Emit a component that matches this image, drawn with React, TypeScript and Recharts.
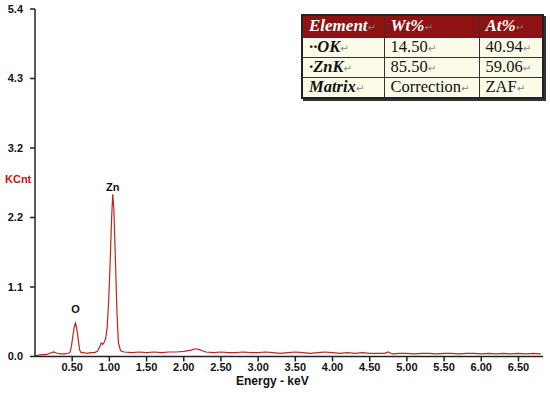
import React from 'react';
import { LineChart, Line, XAxis, YAxis, ReferenceDot } from 'recharts';

// EDS spectrum (keV vs KCnt)
const energy = [
  0.0, 0.05, 0.1, 0.15, 0.2, 0.25, 0.3, 0.35, 0.4, 0.44, 0.47, 0.49, 0.51, 0.53, 0.545, 0.56, 0.58, 0.6, 0.62,
  0.65, 0.7, 0.75, 0.8, 0.84, 0.87, 0.89, 0.91, 0.93, 0.95, 0.97, 0.99, 1.01, 1.03, 1.045, 1.06, 1.08, 1.1,
  1.12, 1.15, 1.2, 1.3, 1.4, 1.5, 1.6, 1.7, 1.8, 1.9, 2.0, 2.1, 2.15, 2.2, 2.25, 2.3, 2.4, 2.5, 2.6, 2.7, 2.8,
  2.9, 3.0, 3.1, 3.2, 3.3, 3.4, 3.5, 3.6, 3.7, 3.8, 3.9, 4.0, 4.1, 4.2, 4.3, 4.4, 4.5, 4.6, 4.7, 4.75, 4.8,
  4.9, 5.0, 5.1, 5.2, 5.3, 5.4, 5.5, 5.6, 5.7, 5.8, 5.9, 6.0, 6.1, 6.2, 6.3, 6.4, 6.5, 6.6, 6.7, 6.8,
];
const kcnt = [
  0.01, 0.02, 0.03, 0.03, 0.05, 0.07, 0.05, 0.04, 0.04, 0.05, 0.06, 0.16, 0.33, 0.47, 0.52, 0.44, 0.28, 0.1, 0.06,
  0.06, 0.05, 0.06, 0.06, 0.08, 0.15, 0.21, 0.19, 0.22, 0.28, 0.45, 0.85, 1.45, 2.15, 2.52, 2.3, 1.55, 0.75,
  0.22, 0.09, 0.07, 0.06, 0.07, 0.06, 0.07, 0.06, 0.07, 0.07, 0.08, 0.1, 0.12, 0.11, 0.09, 0.07, 0.06, 0.07, 0.06, 0.06, 0.07,
  0.06, 0.06, 0.07, 0.06, 0.05, 0.06, 0.07, 0.06, 0.05, 0.06, 0.07, 0.06, 0.05, 0.06, 0.05, 0.06, 0.05, 0.05, 0.05, 0.07, 0.04,
  0.05, 0.05, 0.04, 0.05, 0.05, 0.04, 0.05, 0.05, 0.04, 0.05, 0.05, 0.04, 0.05, 0.04, 0.05, 0.04, 0.05, 0.04, 0.05, 0.04,
];

const xTicks = [0.5, 1.0, 1.5, 2.0, 2.5, 3.0, 3.5, 4.0, 4.5, 5.0, 5.5, 6.0, 6.5];
const yTicks = [0, 1.08, 2.16, 3.24, 4.32, 5.4];

const peakNames = ['O', 'Zn'];
const peakEnergy = [0.545, 1.045];
const peakHeight = [0.52, 2.52];
const peakOffset = [10, 3];

const tableHead = ['Element', 'Wt%', 'At%'];
const tableRows = [
  ['\u00b7\u00b7OK', '14.50', '40.94'],
  ['\u00b7ZnK', '85.50', '59.06'],
  ['Matrix', 'Correction', 'ZAF'],
];

const data = energy.map((e, i) => ({ e, v: kcnt[i] }));

const tickStyle = { fill: '#111', fontSize: 11, fontWeight: 700, fontFamily: 'Arial, "Liberation Sans", sans-serif' };
const red = '#bf2323';

const Mark = () => (
  <span style={{ fontSize: 10, color: '#888', fontStyle: 'normal', fontWeight: 400, fontFamily: '"DejaVu Sans", sans-serif' }}>
    {'\u21b5'}
  </span>
);

const colWidths = [82, 95, 64];

const EdsTable = () => (
  <table
    style={{
      position: 'absolute',
      left: 301,
      top: 14,
      width: 241,
      borderCollapse: 'collapse',
      tableLayout: 'fixed',
      fontFamily: '"Liberation Serif", "Times New Roman", serif',
      fontSize: 16.5,
      border: '2px solid #222',
      boxShadow: '2px 2px 0 #333',
    }}
  >
    <colgroup>
      {colWidths.map((w, i) => (
        <col key={i} style={{ width: w }} />
      ))}
    </colgroup>
    <tbody>
      <tr style={{ background: '#8e1212', height: 21 }}>
        {tableHead.map((h, i) => (
          <td
            key={h}
            style={{
              color: '#fff',
              fontWeight: 700,
              fontStyle: 'italic',
              fontSize: 17,
              padding: '0 0 0 6px',
              lineHeight: '19px',
              borderLeft: i ? '1px solid #333' : undefined,
            }}
          >
            {h}
            <Mark />
          </td>
        ))}
      </tr>
      {tableRows.map((row, r) => (
        <tr key={r} style={{ background: '#fcfbe8', height: 20 }}>
          {row.map((c, i) => (
            <td
              key={i}
              style={{
                color: '#111',
                fontWeight: i === 0 ? 700 : 400,
                fontStyle: i === 0 ? 'italic' : 'normal',
                padding: '0 0 0 6px',
                lineHeight: '17px',
                borderTop: '1px solid #333',
                borderLeft: i ? '1px solid #333' : undefined,
                whiteSpace: 'nowrap',
              }}
            >
              {c}
              <Mark />
            </td>
          ))}
        </tr>
      ))}
    </tbody>
  </table>
);

export default function App() {
  return (
    <div style={{ position: 'absolute', left: 0, top: 0, width: 550, height: 394, background: '#fff' }}>
      <LineChart width={550} height={394} data={data} margin={{ top: 9, right: 7, bottom: 0, left: 0 }}>
        <XAxis
          dataKey="e"
          type="number"
          domain={[0, 6.83]}
          ticks={xTicks}
          tickFormatter={(v: number) => v.toFixed(2)}
          tick={tickStyle}
          stroke="#222"
          strokeWidth={1.5}
          tickSize={5}
          tickMargin={2}
          height={37.5}
          interval={0}
        />
        <YAxis
          type="number"
          domain={[0, 5.4]}
          ticks={yTicks}
          tickFormatter={(v: number) => v.toFixed(1)}
          tick={tickStyle}
          stroke="#222"
          strokeWidth={1.5}
          tickSize={5}
          tickMargin={7}
          width={35}
          interval={0}
        />
        <Line
          type="linear"
          dataKey="v"
          stroke={red}
          strokeWidth={1.2}
          dot={false}
          isAnimationActive={false}
        />
        {peakNames.map((name, i) => (
          <ReferenceDot
            key={name}
            x={peakEnergy[i]}
            y={peakHeight[i]}
            r={0}
            stroke="none"
            label={{ value: name, position: 'top', offset: peakOffset[i], fill: '#111', fontSize: 11, fontWeight: 700, fontFamily: 'Arial, "Liberation Sans", sans-serif' }}
          />
        ))}
      </LineChart>
      <div
        style={{
          position: 'absolute',
          left: 5,
          top: 173,
          color: '#d01010',
          fontSize: 11,
          fontWeight: 700,
          fontFamily: 'Arial, "Liberation Sans", sans-serif',
        }}
      >
        KCnt
      </div>
      <div
        style={{
          position: 'absolute',
          left: 236,
          top: 374,
          color: '#111',
          fontSize: 12,
          fontWeight: 700,
          fontFamily: 'Arial, "Liberation Sans", sans-serif',
        }}
      >
        Energy - keV
      </div>
      <EdsTable />
    </div>
  );
}
